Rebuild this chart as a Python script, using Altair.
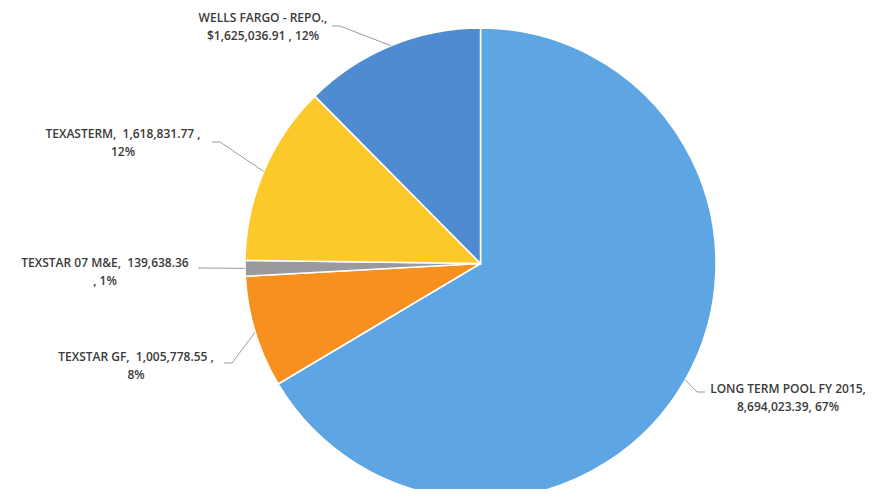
import math
import altair as alt
import pandas as pd

# ---- data ----
names = ["LONG TERM POOL FY 2015", "TEXSTAR GF", "TEXSTAR 07 M&E", "TEXASTERM", "WELLS FARGO - REPO."]
values = [8694023.39, 1005778.55, 139638.36, 1618831.77, 1625036.91]
line1 = ["LONG TERM POOL FY 2015,", "TEXSTAR GF,\u00a0 1,005,778.55 ,", "TEXSTAR 07 M&E,\u00a0 139,638.36",
         "TEXASTERM,\u00a0 1,618,831.77 ,", "WELLS FARGO - REPO.,"]
line2 = ["8,694,023.39, 67%", "8%", ", 1%", "12%", "$1,625,036.91 , 12%"]
colors = ["#5EA5E3", "#F7901E", "#9A9A9E", "#FDC82A", "#4E8BD0"]

# ---- layout (pixels, chart coordinates) ----
W, H = 858, 481
CX, CY, R = 472.5, 255.5, 235.5
label_pos = [(780, 381), (128, 349), (97, 255), (115, 126), (255, 10)]   # text centre of first line
leader_end = [(697, 384), (216, 355), (190, 260), (204, 134), (324, 18)]
line_gap = 18

total = sum(values)
rows = []
lines = []
cum = 0.0
for i, (n, v) in enumerate(zip(names, values)):
    mid = (cum + v / 2) / total * 2 * math.pi
    cum += v
    ex = CX + R * math.sin(mid)
    ey = CY - R * math.cos(mid)
    lx, ly = label_pos[i]
    rows.append({"name": n, "value": v, "order": i, "l1": line1[i], "l2": line2[i],
                 "lx": lx, "ly": ly, "ly2": ly + line_gap})
    hx, hy = leader_end[i]
    stub = -8 if hx > CX else 8
    lines += [{"name": n, "k": 0, "x": hx, "y": hy},
              {"name": n, "k": 1, "x": hx + stub, "y": hy},
              {"name": n, "k": 2, "x": ex, "y": ey}]

df = pd.DataFrame(rows)
ldf = pd.DataFrame(lines)

xs = alt.Scale(domain=[0, W], range=[0, W])
ys = alt.Scale(domain=[0, H], range=[0, H])

pie = alt.Chart(df).mark_arc(radius=R, stroke="white", strokeWidth=1.5).encode(
    theta=alt.Theta("value:Q", stack=True),
    order=alt.Order("order:Q"),
    color=alt.Color("name:N", scale=alt.Scale(domain=names, range=colors), legend=None),
    x=alt.value(CX),
    y=alt.value(CY),
)

leaders = alt.Chart(ldf).mark_line(color="#9a9a9a", strokeWidth=1).encode(
    x=alt.X("x:Q", scale=xs, axis=None),
    y=alt.Y("y:Q", scale=ys, axis=None),
    detail="name:N",
    order="k:Q",
)

font = dict(font="Open Sans", fontSize=12, fontWeight=600, color="#3a3a3a", align="center", baseline="middle")
t1 = alt.Chart(df).mark_text(**font).encode(
    x=alt.X("lx:Q", scale=xs, axis=None), y=alt.Y("ly:Q", scale=ys, axis=None), text="l1:N")
t2 = alt.Chart(df).mark_text(**font).encode(
    x=alt.X("lx:Q", scale=xs, axis=None), y=alt.Y("ly2:Q", scale=ys, axis=None), text="l2:N")

chart = alt.layer(pie, leaders, t1, t2).properties(
    width=W, height=H, padding=0, background="white",
    autosize=alt.AutoSizeParams(type="none")
).configure_view(strokeWidth=0, stroke="transparent")

chart.save("out.html", embed_options={"renderer": "svg", "actions": False})
